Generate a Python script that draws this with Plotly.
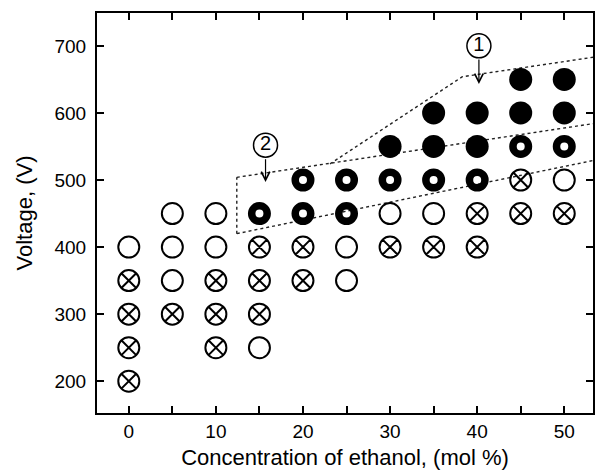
import plotly.graph_objects as go

# ---- data ----
open_x = [0, 5, 5, 5, 10, 10, 15, 25, 25, 30, 35, 50]
open_y = [400, 450, 400, 350, 450, 400, 250, 400, 350, 450, 450, 500]

crossed_x = [0, 0, 0, 0, 5, 10, 10, 10, 15, 15, 15, 20, 20, 30, 35, 40, 40, 45, 45, 50]
crossed_y = [350, 300, 250, 200, 300, 350, 300, 250, 400, 350, 300, 400, 350, 400, 400, 450, 400, 500, 450, 450]

ring_x = [15, 20, 20, 25, 25, 30, 35, 40, 45, 50]
ring_y = [450, 500, 450, 500, 450, 500, 500, 500, 550, 550]

filled_x = [30, 35, 35, 40, 40, 45, 45, 50, 50]
filled_y = [550, 600, 550, 600, 550, 650, 600, 650, 600]

# dotted region boundaries
lower_bx = [12.4, 53.3]
lower_by = [420, 529]
left_bx = [12.4, 12.4]
left_by = [420, 504]
mid_bx = [12.4, 53.3]
mid_by = [504, 584]
top_bx = [23.1, 38.3, 53.3]
top_by = [524, 654, 683]

# circled labels and their arrows
label_text = ["1", "2"]
label_x = [40.2, 15.7]
label_y = [700, 552]
arrow_tail_y = [682, 533]
arrow_tip_y = [643, 497]

x_ticks = [0, 5, 10, 15, 20, 25, 30, 35, 40, 45, 50]
x_ticktext = ["0", "", "10", "", "20", "", "30", "", "40", "", "50"]
y_ticks = [200, 300, 400, 500, 600, 700]

FONT = "Liberation Sans, Arial, sans-serif"

fig = go.Figure()

for bx, by in [(lower_bx, lower_by), (left_bx, left_by), (mid_bx, mid_by), (top_bx, top_by)]:
    fig.add_trace(go.Scatter(x=bx, y=by, mode="lines",
                             line=dict(color="#222222", width=1.4, dash="dot"),
                             hoverinfo="skip", showlegend=False))

fig.add_trace(go.Scatter(x=open_x, y=open_y, mode="markers", showlegend=False,
                         marker=dict(symbol="circle-open", size=21, color="black",
                                     line=dict(width=2, color="black"))))
fig.add_trace(go.Scatter(x=crossed_x, y=crossed_y, mode="markers", showlegend=False,
                         marker=dict(symbol="circle-x-open", size=21, color="black",
                                     line=dict(width=2, color="black"))))
fig.add_trace(go.Scatter(x=ring_x, y=ring_y, mode="markers", showlegend=False,
                         marker=dict(symbol="circle-open", size=15.5, color="black",
                                     line=dict(width=7.5, color="black"))))
fig.add_trace(go.Scatter(x=filled_x, y=filled_y, mode="markers", showlegend=False,
                         marker=dict(symbol="circle", size=23, color="black",
                                     line=dict(width=0))))

fig.add_trace(go.Scatter(x=label_x, y=label_y, mode="markers+text", text=label_text,
                         textposition="middle center", showlegend=False,
                         textfont=dict(family=FONT, size=20, color="black"),
                         marker=dict(symbol="circle-open", size=24, color="black",
                                     line=dict(width=1.5, color="black"))))

for lx, ty, hy in zip(label_x, arrow_tail_y, arrow_tip_y):
    fig.add_annotation(x=lx, y=hy, ax=lx, ay=ty, axref="x", ayref="y",
                       xref="x", yref="y", text="", showarrow=True,
                       arrowhead=5, arrowsize=1.4, arrowwidth=1.2,
                       arrowcolor="black", standoff=0, startstandoff=0)

axis_common = dict(showline=True, linecolor="black", linewidth=2, mirror="ticks",
                   ticks="inside", ticklen=7, tickwidth=1.5, tickcolor="black",
                   showgrid=False, zeroline=False,
                   tickfont=dict(family=FONT, size=19, color="black"))

fig.update_xaxes(range=[-3.65, 53.3], tickvals=x_ticks, ticktext=x_ticktext,
                 ticklabelstandoff=0,
                 title=dict(text="Concentration of ethanol, (mol %)",
                            font=dict(family=FONT, size=22, color="black"), standoff=9),
                 **axis_common)
fig.update_yaxes(range=[152.6, 749], tickvals=y_ticks, ticklabelstandoff=5,
                 title=dict(text="Voltage, (V)",
                            font=dict(family=FONT, size=22, color="black"), standoff=16),
                 **axis_common)

fig.update_layout(width=595, height=476, autosize=False,
                  margin=dict(l=97, r=2, t=13, b=63, autoexpand=False),
                  plot_bgcolor="white", paper_bgcolor="white")

fig.write_html("out.html")
